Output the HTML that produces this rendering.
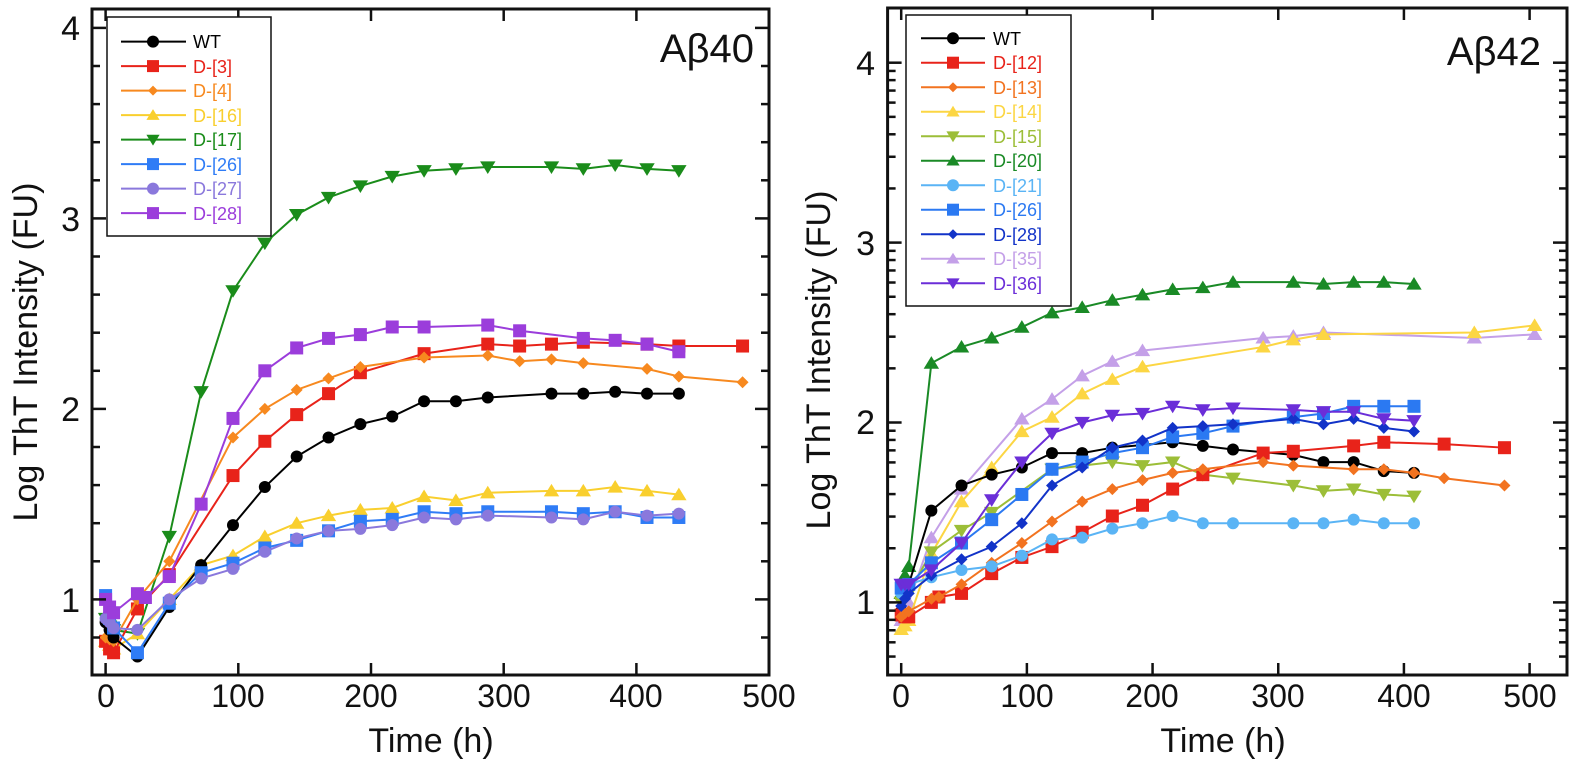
<!DOCTYPE html>
<html><head><meta charset="utf-8"><style>
html,body{margin:0;padding:0;background:#fff}
svg{display:block}
text{font-family:"Liberation Sans",sans-serif}
</style></head><body>
<svg id="s" width="1575" height="768" viewBox="0 0 1575 768" xmlns="http://www.w3.org/2000/svg">
<rect width="1575" height="768" fill="#fff"/>
<g id="plots"></g>
<!-- Left axes text -->
<g font-size="34" fill="#111" text-anchor="end">
<text x="80" y="40">4</text><text x="80" y="231">3</text><text x="80" y="421">2</text><text x="80" y="612">1</text>
</g>
<g font-size="32" fill="#111" text-anchor="middle">
<text x="106" y="707">0</text><text x="238" y="707">100</text><text x="371" y="707">200</text><text x="504" y="707">300</text><text x="636" y="707">400</text><text x="769" y="707">500</text>
<text x="431" y="752" font-size="34">Time (h)</text>
<text transform="translate(37,352) rotate(-90)" font-size="34">Log ThT Intensity (FU)</text>
</g>
<text x="754" y="62" font-size="40" text-anchor="end" fill="#111">Aβ40</text>
<!-- Right axes text -->
<g font-size="34" fill="#111" text-anchor="end">
<text x="875" y="75">4</text><text x="875" y="255">3</text><text x="875" y="434">2</text><text x="875" y="614">1</text>
</g>
<g font-size="32" fill="#111" text-anchor="middle">
<text x="901" y="707">0</text><text x="1027" y="707">100</text><text x="1152" y="707">200</text><text x="1278" y="707">300</text><text x="1404" y="707">400</text><text x="1530" y="707">500</text>
<text x="1223" y="752" font-size="34">Time (h)</text>
<text transform="translate(830,360) rotate(-90)" font-size="34">Log ThT Intensity (FU)</text>
</g>
<text x="1541" y="65" font-size="40" text-anchor="end" fill="#111">Aβ42</text>
<!-- legends -->
<rect x="107" y="17" width="164" height="219" fill="#fff" stroke="#111" stroke-width="1.5"/>
<g id="leg1" font-size="18"></g>
<g font-size="18">
<text x="193" y="48" fill="#000">WT</text>
<text x="193" y="73" fill="#e8231a">D-[3]</text>
<text x="193" y="97" fill="#f7891f">D-[4]</text>
<text x="193" y="122" fill="#f9cf2e">D-[16]</text>
<text x="193" y="146" fill="#1a8c1a">D-[17]</text>
<text x="193" y="171" fill="#2f7cf6">D-[26]</text>
<text x="193" y="195" fill="#8a78dc">D-[27]</text>
<text x="193" y="220" fill="#9b3ddb">D-[28]</text>
</g>
<rect x="906" y="15" width="165" height="291" fill="#fff" stroke="#111" stroke-width="1.5"/>
<g font-size="18">
<text x="993" y="45" fill="#000">WT</text>
<text x="993" y="69" fill="#e8231a">D-[12]</text>
<text x="993" y="94" fill="#f27320">D-[13]</text>
<text x="993" y="118" fill="#fcd643">D-[14]</text>
<text x="993" y="143" fill="#9cbe38">D-[15]</text>
<text x="993" y="167" fill="#1a8a26">D-[20]</text>
<text x="993" y="192" fill="#5ab4f5">D-[21]</text>
<text x="993" y="216" fill="#2b79f2">D-[26]</text>
<text x="993" y="241" fill="#1233c8">D-[28]</text>
<text x="993" y="265" fill="#c4a0e8">D-[35]</text>
<text x="993" y="290" fill="#6b2ed8">D-[36]</text>
</g>
<g id="legm"></g>
</svg>
<script>
const NS="http://www.w3.org/2000/svg";
const root=document.getElementById('plots'), legm=document.getElementById('legm');
function el(t,a,p){const e=document.createElementNS(NS,t);for(const k in a)e.setAttribute(k,a[k]);(p||root).appendChild(e);return e;}
function marker(type,x,y,c,p,s){s=s||6;
 if(type=='o')el('circle',{cx:x,cy:y,r:s,fill:c},p);
 else if(type=='s')el('rect',{x:x-s,y:y-s,width:2*s,height:2*s,fill:c},p);
 else if(type=='d')el('polygon',{points:`${x},${y-s} ${x+s},${y} ${x},${y+s} ${x-s},${y}`,fill:c},p);
 else if(type=='^')el('polygon',{points:`${x},${y-s} ${x+s*1.1},${y+s*0.8} ${x-s*1.1},${y+s*0.8}`,fill:c},p);
 else if(type=='v')el('polygon',{points:`${x},${y+s} ${x+s*1.1},${y-s*0.8} ${x-s*1.1},${y-s*0.8}`,fill:c},p);
}
function plot(ax,series){
 for(const s of series){
  const pts=[];for(let i=0;i<s.d.length;i+=2)pts.push([ax.x0+s.d[i]*ax.kx, ax.y1-(s.d[i+1]-1)*ax.ky]);
  el('polyline',{points:pts.map(p=>p.join(',')).join(' '),fill:'none',stroke:s.c,'stroke-width':2});
  const sz=s.m=='d'?6:s.m=='o'?6:s.m=='s'?6:7;
  for(const p of pts)marker(s.m,p[0],p[1],s.c,root,s.m=='s'?6.5:sz);
 }
}
function frame(ax,l,r,t,b,ylo,yhi,logminor){
 el('rect',{x:l,y:t,width:r-l,height:b-t,fill:'none',stroke:'#111','stroke-width':3});
 for(let h=0;h<=500;h+=100){const x=ax.x0+h*ax.kx;
  el('line',{x1:x,x2:x,y1:b,y2:b-12,stroke:'#111','stroke-width':2.5});
  el('line',{x1:x,x2:x,y1:t,y2:t+12,stroke:'#111','stroke-width':2.5});}
 const ys=[];
 for(let n=0;n<=4;n++){
  if(logminor){for(let k=2;k<=9;k++)ys.push([n+Math.log10(k),0]);}
  else{for(let k=1;k<5;k++)ys.push([n+k*0.2,0]);}
  ys.push([n+1,1]);}
 for(const [v,maj] of ys){if(v<ylo||v>yhi)continue;const y=ax.y1-(v-1)*ax.ky;const L=maj?14:8;
  el('line',{x1:l,x2:l+L,y1:y,y2:y,stroke:'#111','stroke-width':2.5});
  el('line',{x1:r,x2:r-L,y1:y,y2:y,stroke:'#111','stroke-width':2.5});}
}
const A1={x0:105.6,kx:1.327,y1:599.4,ky:190.5};
const A2={x0:901.2,kx:1.2568,y1:602.4,ky:179.9};
const L1=[
{c:'#1a8c1a',m:'v',d:[0,0.9,3,0.86,6,0.84,24,0.82,48,1.33,72,2.09,96,2.62,120,2.87,144,3.02,168,3.11,192,3.17,216,3.22,240,3.25,264,3.26,288,3.27,336,3.27,360,3.26,384,3.28,408,3.26,432,3.25]},
{c:'#f9cf2e',m:'^',d:[0,0.78,3,0.76,6,0.74,24,0.82,48,1.0,72,1.18,96,1.23,120,1.33,144,1.4,168,1.44,192,1.47,216,1.48,240,1.54,264,1.52,288,1.56,336,1.57,360,1.57,384,1.59,408,1.57,432,1.55]},
{c:'#e8231a',m:'s',d:[0,0.78,3,0.74,6,0.72,24,0.95,48,1.13,96,1.65,120,1.83,144,1.97,168,2.08,192,2.19,240,2.29,288,2.34,312,2.33,336,2.34,360,2.35,408,2.34,432,2.33,480,2.33]},
{c:'#f7891f',m:'d',d:[0,0.8,3,0.79,6,0.78,24,1.0,48,1.2,96,1.85,120,2.0,144,2.1,168,2.16,192,2.22,240,2.27,288,2.28,312,2.25,336,2.26,360,2.24,408,2.21,432,2.17,480,2.14]},
{c:'#000',m:'o',d:[0,0.88,3,0.84,6,0.8,24,0.7,48,0.96,72,1.18,96,1.39,120,1.59,144,1.75,168,1.85,192,1.92,216,1.96,240,2.04,264,2.04,288,2.06,336,2.08,360,2.08,384,2.09,408,2.08,432,2.08]},
{c:'#2f7cf6',m:'s',d:[0,1.02,3,0.9,6,0.85,24,0.72,48,0.98,72,1.14,96,1.19,120,1.27,144,1.31,168,1.36,192,1.41,216,1.42,240,1.46,264,1.45,288,1.46,336,1.46,360,1.45,384,1.46,408,1.43,432,1.43]},
{c:'#8a78dc',m:'o',d:[0,0.9,3,0.88,6,0.85,24,0.84,48,1.0,72,1.11,96,1.16,120,1.25,144,1.32,168,1.36,192,1.37,216,1.39,240,1.43,264,1.42,288,1.44,336,1.43,360,1.42,384,1.46,408,1.44,432,1.45]},
{c:'#9b3ddb',m:'s',d:[0,1.0,3,0.96,6,0.93,24,1.03,30,1.01,48,1.12,72,1.5,96,1.95,120,2.2,144,2.32,168,2.37,192,2.39,216,2.43,240,2.43,288,2.44,312,2.41,360,2.37,384,2.36,408,2.34,432,2.3]}
];
const L2=[
{c:'#1a8a26',m:'^',d:[0,1.05,3,1.15,6,1.2,24,2.33,48,2.42,72,2.47,96,2.53,120,2.61,144,2.64,168,2.68,192,2.71,216,2.74,240,2.75,264,2.78,312,2.78,336,2.77,360,2.78,384,2.78,408,2.77]},
{c:'#c4a0e8',m:'^',d:[0,0.9,3,0.95,6,1.0,24,1.36,48,1.63,96,2.02,120,2.13,144,2.26,168,2.34,192,2.4,288,2.47,312,2.48,336,2.5,456,2.47,504,2.49]},
{c:'#fcd643',m:'^',d:[0,0.85,3,0.87,6,0.9,24,1.27,48,1.56,72,1.75,96,1.95,120,2.03,144,2.16,168,2.24,192,2.31,288,2.42,312,2.46,336,2.49,456,2.5,504,2.54]},
{c:'#9cbe38',m:'v',d:[0,1.0,3,1.02,6,1.05,24,1.28,48,1.4,72,1.5,120,1.74,144,1.76,168,1.78,192,1.76,216,1.78,240,1.71,264,1.69,312,1.65,336,1.62,360,1.63,384,1.6,408,1.59]},
{c:'#000',m:'o',d:[0,0.95,3,1.05,6,1.1,24,1.51,48,1.65,72,1.71,96,1.75,120,1.83,144,1.83,168,1.86,216,1.89,240,1.87,264,1.85,312,1.82,336,1.78,360,1.78,384,1.73,408,1.72]},
{c:'#e8231a',m:'s',d:[0,0.93,3,0.92,6,0.92,24,1.0,30,1.03,48,1.05,72,1.16,96,1.25,120,1.31,144,1.39,168,1.48,192,1.54,216,1.63,240,1.71,288,1.83,312,1.84,360,1.87,384,1.89,432,1.88,480,1.86]},
{c:'#f27320',m:'d',d:[0,0.92,3,0.94,6,0.95,24,1.02,30,1.03,48,1.1,72,1.22,96,1.33,120,1.45,144,1.56,168,1.63,192,1.68,216,1.72,240,1.74,288,1.78,312,1.76,360,1.74,384,1.74,408,1.72,432,1.69,480,1.65]},
{c:'#5ab4f5',m:'o',d:[0,1.05,3,1.08,6,1.1,24,1.14,48,1.18,72,1.2,96,1.26,120,1.35,144,1.36,168,1.41,192,1.44,216,1.48,240,1.44,264,1.44,312,1.44,336,1.44,360,1.46,384,1.44,408,1.44]},
{c:'#2b79f2',m:'s',d:[0,1.08,3,1.09,6,1.1,24,1.22,48,1.33,72,1.46,96,1.6,120,1.74,144,1.78,168,1.83,192,1.86,216,1.92,240,1.94,264,1.98,312,2.03,336,2.05,360,2.09,384,2.09,408,2.09]},
{c:'#1233c8',m:'d',d:[0,0.98,3,1.02,6,1.05,24,1.15,48,1.24,72,1.31,96,1.44,120,1.65,144,1.75,168,1.86,192,1.9,216,1.97,240,1.98,264,1.99,312,2.02,336,1.99,360,2.02,384,1.97,408,1.95]},
{c:'#6b2ed8',m:'v',d:[0,1.1,3,1.1,6,1.1,24,1.18,48,1.33,72,1.57,96,1.78,120,1.94,144,2.0,168,2.04,192,2.05,216,2.09,240,2.07,264,2.08,312,2.07,336,2.06,360,2.06,384,2.02,408,2.01]}
];
plot(A1,L1);plot(A2,L2);
frame(A1,92,769,9,675,0.62,4.1,false);
frame(A2,887.6,1567,8,675,0.62,4.3,true);
// legend marker rows
const lg1=[['#000','o'],['#e8231a','s'],['#f7891f','d'],['#f9cf2e','^'],['#1a8c1a','v'],['#2f7cf6','s'],['#8a78dc','o'],['#9b3ddb','s']];
lg1.forEach((a,i)=>{const y=41.6+i*24.5;el('line',{x1:121,x2:186,y1:y,y2:y,stroke:a[0],'stroke-width':2},legm);marker(a[1],153,y,a[0],legm,a[1]=='d'?5:6);});
const lg2=[['#000','o'],['#e8231a','s'],['#f27320','d'],['#fcd643','^'],['#9cbe38','v'],['#1a8a26','^'],['#5ab4f5','o'],['#2b79f2','s'],['#1233c8','d'],['#c4a0e8','^'],['#6b2ed8','v']];
lg2.forEach((a,i)=>{const y=38.2+i*24.5;el('line',{x1:921,x2:985,y1:y,y2:y,stroke:a[0],'stroke-width':2},legm);marker(a[1],953,y,a[0],legm,a[1]=='d'?5:6);});
</script>
</body></html>
